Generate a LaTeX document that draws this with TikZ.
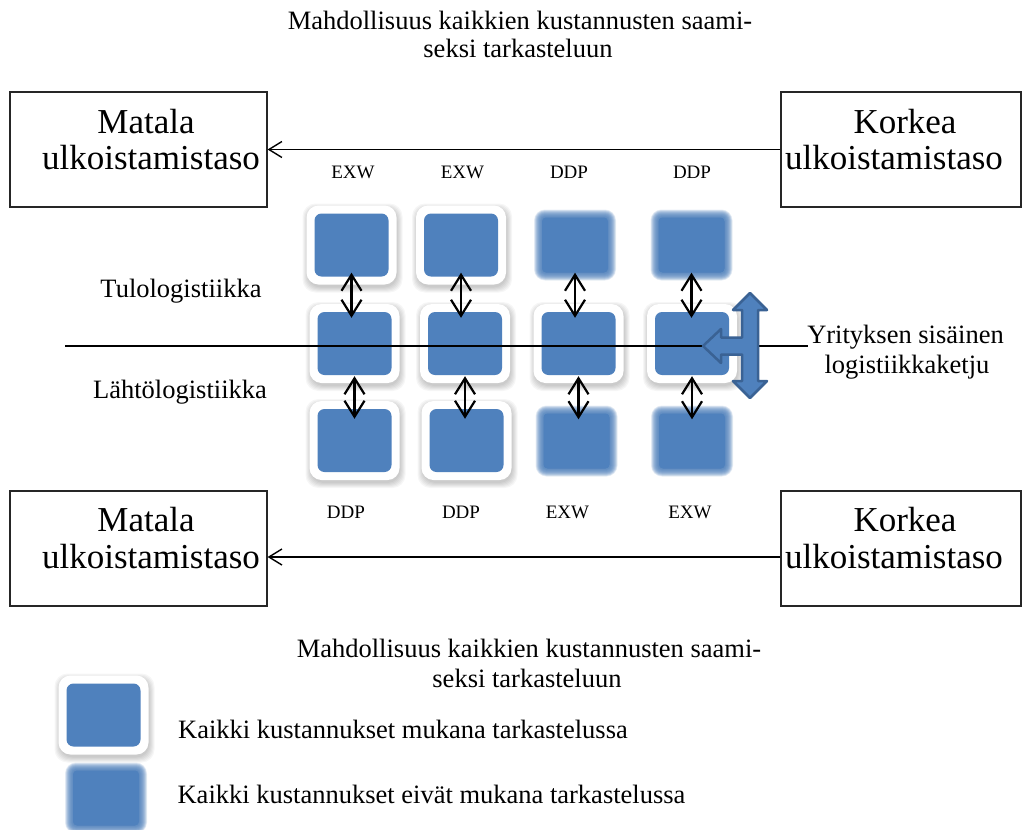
\documentclass[tikz,border=0pt]{standalone}
\usepackage{fontspec}
\setmainfont{Liberation Serif}
\usetikzlibrary{arrows.meta,calc}
\definecolor{sqblue}{HTML}{4F81BD}
\definecolor{sqedge}{HTML}{3A6294}

\tikzset{
  sq/.style={fill=sqblue,rounded corners=7pt,minimum width=74pt,minimum height=63pt,inner sep=0pt},
  sqghost/.style={minimum width=74pt,minimum height=63pt,inner sep=0pt},
  levelbox/.style={draw=black!85,line width=1.2pt,minimum width=257pt,minimum height=115pt,inner sep=0pt},
  boxtext/.style={font=\fontsize{35}{38}\selectfont,anchor=base,inner sep=0pt},
  bigtext/.style={font=\fontsize{26.5}{28}\selectfont,anchor=base,inner sep=0pt},
  termtext/.style={font=\fontsize{19}{22}\selectfont,anchor=base,inner sep=0pt},
  levelarrow/.style={-{Straight Barb[length=13pt,width=16pt]},line width=1.4pt},
  linkarrow/.style={{Straight Barb[length=16pt,width=20pt]}-{Straight Barb[length=16pt,width=20pt]},line width=2.2pt},
}

% square on a white rounded frame with a soft drop shadow
\newcommand\framedsq[3]{%
  \begin{scope}[shift={(#2,#3)}]
    \foreach \k in {0,...,5}{
      \pgfmathsetmacro\fw{45+\k}
      \pgfmathsetmacro\fh{39.5+\k}
      \fill[black,opacity=0.035,rounded corners=13pt] (-\fw+1,-\fh+3) rectangle (\fw+1,\fh+3);
    }
    \fill[white,rounded corners=12pt] (-45,-39.5) rectangle (45,39.5);
  \end{scope}
  \node[sq] (#1) at (#2,#3) {};
}

% square with soft, blurred edges
\newcommand\blursq[3]{%
  \begin{scope}[shift={(#2,#3)}]
    \fill[sqblue,rounded corners=4pt] (-33,-27.5) rectangle (33,27.5);
    \foreach \e in {-3.5,-3,...,4}{
      \pgfmathsetmacro\bw{37+\e}
      \pgfmathsetmacro\bh{31.5+\e}
      \pgfmathsetmacro\br{7+\e}
      \fill[sqblue,opacity=0.12,rounded corners=\br pt] (-\bw,-\bh) rectangle (\bw,\bh);
    }
  \end{scope}
  \node[sqghost] (#1) at (#2,#3) {};
}

\begin{document}
\begin{tikzpicture}[x=1pt,y=-1pt]
\useasboundingbox[fill=white] (0,0) rectangle (1023,830);

% heading
\node[bigtext] (h1a) at (520,29) {Mahdollisuus kaikkien kustannusten saami-};
\node[bigtext] (h1b) at (518,57) {seksi tarkasteluun};

% outsourcing level boxes
\node[levelbox] (tl) at (138.5,149.5) {};
\node[levelbox,minimum width=240pt] (tr) at (901,149.5) {};
\node[levelbox] (bl) at (138.5,548.5) {};
\node[levelbox,minimum width=240pt] (br) at (901,548.5) {};

\node[boxtext] (tl1) at (146,133.5) {Matala};
\node[boxtext] (tl2) at (151,169) {ulkoistamistaso};
\node[boxtext] (tr1) at (905,133.5) {Korkea};
\node[boxtext] (tr2) at (894,169) {ulkoistamistaso};
\node[boxtext] (bl1) at (146,531.5) {Matala};
\node[boxtext] (bl2) at (151,568) {ulkoistamistaso};
\node[boxtext] (br1) at (905,531.5) {Korkea};
\node[boxtext] (br2) at (894,568) {ulkoistamistaso};

\draw[levelarrow] (tr.west) -- (tl.east);
\draw[levelarrow] ($(br.west)+(0,8.5)$) -- ($(bl.east)+(0,8.5)$);

% delivery terms
\node[termtext] (ta) at (353,178) {EXW};
\node[termtext] (tb) at (462.5,178) {EXW};
\node[termtext] (tc) at (569,178) {DDP};
\node[termtext] (td) at (692,178) {DDP};
\node[termtext] (ba) at (346,518) {DDP};
\node[termtext] (bb) at (461,518) {DDP};
\node[termtext] (bc) at (567.5,518) {EXW};
\node[termtext] (bd) at (690,518) {EXW};

% squares
\framedsq{t1}{351.5}{245}
\framedsq{t2}{461}{245}
\blursq{t3}{575}{245}
\blursq{t4}{691.5}{245}
\framedsq{m1}{354.5}{343.5}
\framedsq{m2}{465}{343.5}
\framedsq{m3}{578.5}{343.5}
\framedsq{m4}{692}{343.5}
\framedsq{b1}{354.5}{440.5}
\framedsq{b2}{466.5}{440.5}
\blursq{b3}{576.5}{441}
\blursq{b4}{692}{441}

% links between the rows
\foreach \c in {1,2,3,4}{
  \draw[linkarrow] ($(t\c.south)+(0,-4)$) -- ($(t\c.south |- m\c.north)+(0,6)$);
  \draw[linkarrow] ($(m\c.south)+(0,1)$) -- ($(m\c.south |- b\c.north)+(0,10)$);
}

% internal logistics chain line
\coordinate (chainL) at (65,346);
\coordinate (chainR) at (808,346);
\draw[line width=1.3pt] (chainL) -- (chainR);

% three-way block arrow
\draw[fill=sqblue,draw=sqedge,line width=2.5pt,line join=round]
  (750,293) -- (767,310) -- (758,310) -- (758,381) -- (767,381) -- (750,398)
  -- (733,381) -- (742,381) -- (742,354.5) -- (721,354.5) -- (721,363)
  -- (703,346) -- (721,329) -- (721,337.5) -- (742,337.5) -- (742,310)
  -- (733,310) -- cycle;

% side labels
\node[bigtext] (inb) at (181,297) {Tulologistiikka};
\node[bigtext] (outb) at (180,398) {Lähtölogistiikka};
\node[bigtext] (ch1) at (905.5,343) {Yrityksen sisäinen};
\node[bigtext] (ch2) at (907,373) {logistiikkaketju};

% bottom heading
\node[bigtext] (h2a) at (529,657) {Mahdollisuus kaikkien kustannusten saami-};
\node[bigtext] (h2b) at (527,687) {seksi tarkasteluun};

% legend
\framedsq{legA}{103.5}{715}
\blursq{legB}{106}{798}
\node[bigtext] (legAt) at (403,738) {Kaikki kustannukset mukana tarkastelussa};
\node[bigtext] (legBt) at (431.5,803) {Kaikki kustannukset eivät mukana tarkastelussa};
\end{tikzpicture}
\end{document}
